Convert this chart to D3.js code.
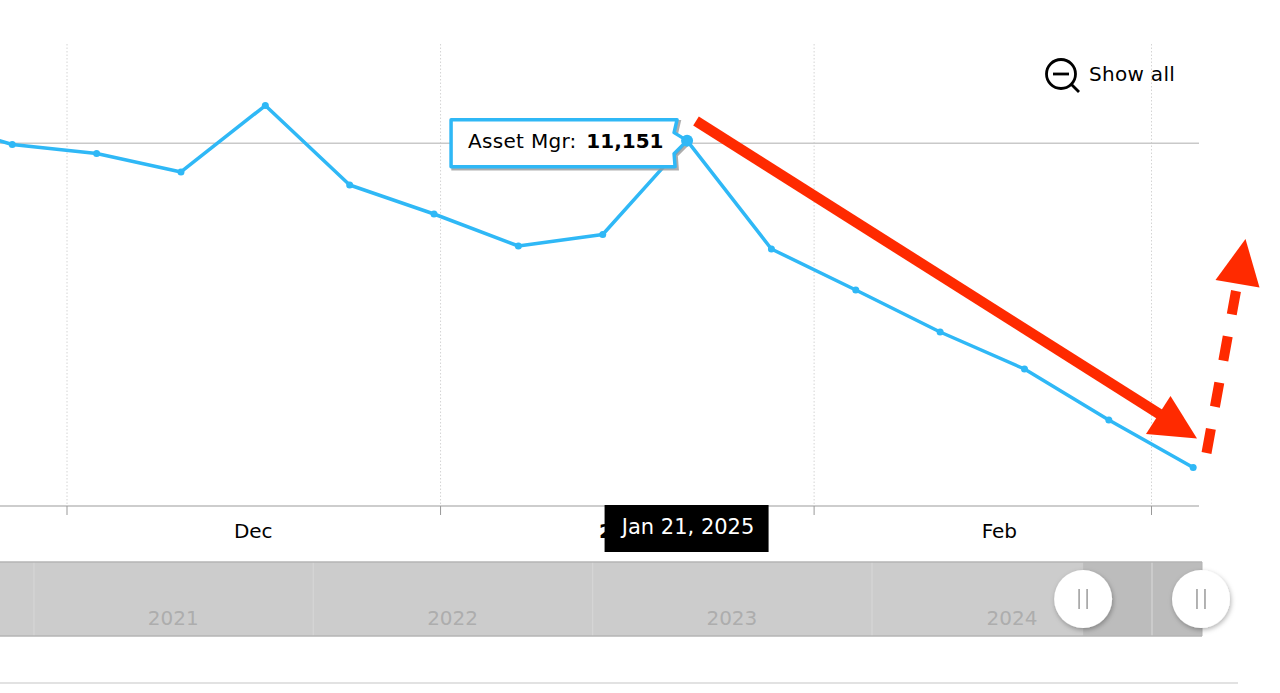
<!DOCTYPE html>
<html>
<head>
<meta charset="utf-8">
<style>
html,body{margin:0;padding:0;background:#fff;overflow:hidden}
svg{display:block}
text{font-family:"DejaVu Sans",Verdana,sans-serif}
</style>
<script src="https://cdn.jsdelivr.net/npm/d3@7/dist/d3.min.js"></script>
</head>
<body>
<svg id="c" width="1280" height="693"></svg>
<script>
const dates=["2024-11-19","2024-11-26","2024-12-03","2024-12-10","2024-12-17","2024-12-24","2024-12-31","2025-01-07","2025-01-14","2025-01-21","2025-01-28","2025-02-04","2025-02-11","2025-02-18","2025-02-25","2025-03-04"];
const assetMgr=[11781,11033,10758,10194,12223,9797,8912,7935,8286,11151,7844,6592,5310,4181,2625,1175];
const seriesName="Asset Mgr";
const hoverDate="2025-01-21";
const hoverDateLabel="Jan 21, 2025";
const monthTicks=["2024-12-01","2025-01-01","2025-02-01","2025-03-01"];
const monthLabels=["Dec","2025","Feb"];
const monthLabelDates=["2024-12-16T11:00Z","2025-01-16T11:00Z","2025-02-16T09:00Z"];
const yGrid=[11070];
const navYears=["2021","2022","2023","2024"];
const navYearLabelDates=["2021-07-02","2022-07-02","2023-07-02","2024-07-02"];
const navDividers=["2021-01-01","2022-01-01","2023-01-01","2024-01-01","2025-01-01"];
const navSelection=["2024-10-03","2025-03-06"];

const noon=s=>new Date(s+"T11:00:00Z");
const day=s=>new Date(s+"T00:00:00Z");
const parse=s=>new Date(s);

const svg=d3.select("#c");
const defs=svg.append("defs");
defs.append("clipPath").attr("id","plot").append("rect").attr("x",0).attr("y",30).attr("width",1199).attr("height",490);
const sh=defs.append("filter").attr("id","hs").attr("x","-30%").attr("y","-30%").attr("width","170%").attr("height","170%");
sh.append("feDropShadow").attr("dx",1).attr("dy",2).attr("stdDeviation",2.5).attr("flood-color","#000").attr("flood-opacity",.3);

const x=d3.scaleTime().domain([day(monthTicks[0]),day(monthTicks[3])]).range([67,1151.5]);
const y=d3.scaleLinear().domain([0,14100]).range([506,44]);
const nav=d3.scaleTime().domain([day(navDividers[0]),day(navDividers[4])]).range([34,1152]);
const BLUE="#2fb8f6", RED="#ff2a00";

// grid
svg.append("g").selectAll("line").data(monthTicks).join("line")
 .attr("x1",d=>x(day(d))).attr("x2",d=>x(day(d))).attr("y1",44).attr("y2",506)
 .attr("stroke","#d4d4d4").attr("stroke-dasharray","1.5 2");
svg.append("g").selectAll("line").data(yGrid).join("line")
 .attr("x1",0).attr("x2",1199).attr("y1",d=>y(d)).attr("y2",d=>y(d))
 .attr("stroke","#c9c9c9").attr("stroke-width",1.5);

// x axis
svg.append("line").attr("x1",0).attr("x2",1199).attr("y1",506).attr("y2",506).attr("stroke","#bdbdbd").attr("stroke-width",1.5);
svg.append("g").selectAll("line").data(monthTicks).join("line")
 .attr("x1",d=>x(day(d))).attr("x2",d=>x(day(d))).attr("y1",506).attr("y2",515)
 .attr("stroke","#999").attr("stroke-width",1);
svg.append("g").selectAll("text").data(monthLabels).join("text")
 .attr("x",(d,i)=>x(parse(monthLabelDates[i]))).attr("y",538).attr("text-anchor","middle")
 .attr("font-size",20).attr("fill","#000").attr("font-weight",d=>d==="2025"?"bold":"normal").text(d=>d);

// series
const pts=dates.map((d,i)=>({d:noon(d),v:assetMgr[i],k:d}));
const plot=svg.append("g").attr("clip-path","url(#plot)");
plot.append("path").datum(pts)
 .attr("d",d3.line().x(d=>x(d.d)).y(d=>y(d.v)))
 .attr("fill","none").attr("stroke",BLUE).attr("stroke-width",3.5).attr("stroke-linejoin","round");
plot.selectAll("circle").data(pts).join("circle")
 .attr("cx",d=>x(d.d)).attr("cy",d=>y(d.v)).attr("r",3.5).attr("fill",BLUE);

// tooltip
const hp=pts.find(p=>p.k===hoverDate);
const hx=x(hp.d), hy=y(hp.v);
const tip=[[-236,-21],[-10,-21],[-13,-8],[0,0],[-13,13],[-12,26],[-236,26]];
const tipPath=d3.line().x(d=>hx+d[0]).y(d=>hy+d[1]).curve(d3.curveLinearClosed)(tip);
svg.append("path").attr("d",tipPath).attr("transform","translate(2,2)").attr("fill","#999").attr("stroke","#999").attr("stroke-width",3.5).attr("opacity",.8);
svg.append("path").attr("d",tipPath).attr("fill","#fff").attr("stroke",BLUE).attr("stroke-width",3.5).attr("stroke-linejoin","round");
const tt=svg.append("text").attr("x",hx-219).attr("y",hy+7).attr("font-size",20).attr("fill","#000");
tt.append("tspan").attr("letter-spacing",.3).text(seriesName+": ");
tt.append("tspan").attr("dx",3).attr("font-weight","bold").text(d3.format(",")(hp.v));
svg.append("circle").attr("cx",hx).attr("cy",hy).attr("r",6).attr("fill",BLUE);

// date label
svg.append("rect").attr("x",hx-82.5).attr("y",505).attr("width",164).attr("height",47).attr("fill","#000");
svg.append("text").attr("x",hx+1).attr("y",534).attr("text-anchor","middle").attr("font-size",21).attr("fill","#fff").text(hoverDateLabel);

// navigator
const nL=0,nR=1202,nT=562,nB=636;
svg.append("rect").attr("x",nL).attr("y",nT).attr("width",nR-nL).attr("height",nB-nT).attr("fill","#cccccc");
svg.append("rect").attr("x",nav(day(navSelection[0]))).attr("y",nT).attr("width",nR-nav(day(navSelection[0]))).attr("height",nB-nT).attr("fill","#bcbcbc");
svg.append("g").selectAll("line").data(navDividers).join("line")
 .attr("x1",d=>nav(day(d))).attr("x2",d=>nav(day(d))).attr("y1",nT).attr("y2",nB)
 .attr("stroke","#d6d6d6").attr("stroke-width",1.2);
[nT,nB].forEach(v=>svg.append("line").attr("x1",nL).attr("x2",nR).attr("y1",v).attr("y2",v).attr("stroke","#b4b4b4").attr("stroke-width",1.5));
svg.append("line").attr("x1",nR).attr("x2",nR).attr("y1",nT).attr("y2",nB).attr("stroke","#b4b4b4").attr("stroke-width",1);
svg.append("g").selectAll("text").data(navYears).join("text")
 .attr("x",(d,i)=>nav(day(navYearLabelDates[i]))).attr("y",624.5).attr("text-anchor","middle")
 .attr("font-size",20).attr("fill","#adadad").text(d=>d);
const handles=svg.append("g").selectAll("g").data(navSelection).join("g")
 .attr("transform",d=>`translate(${nav(day(d))},599)`);
handles.append("circle").attr("r",29).attr("fill","#fff").attr("filter","url(#hs)");
[-4,4].forEach(o=>handles.append("line").attr("x1",o).attr("x2",o).attr("y1",-10).attr("y2",10).attr("stroke","#aaa").attr("stroke-width",1.8));

// page rule under the chart
svg.append("line").attr("x1",0).attr("x2",1238).attr("y1",683).attr("y2",683).attr("stroke","#d8d8d8").attr("stroke-width",1.5);

// Show all
const ic=svg.append("g").attr("transform","translate(1061,74)");
ic.append("circle").attr("r",14.5).attr("fill","none").attr("stroke","#000").attr("stroke-width",2.8);
ic.append("line").attr("x1",-8).attr("x2",8).attr("y1",0).attr("y2",0).attr("stroke","#000").attr("stroke-width",2.8);
ic.append("line").attr("x1",10).attr("y1",10).attr("x2",18).attr("y2",18).attr("stroke","#000").attr("stroke-width",2.8);
svg.append("text").attr("x",1089).attr("y",81).attr("font-size",20).attr("letter-spacing",.3).attr("fill","#000").text("Show all");

// hand-drawn annotation arrows
const ann=svg.append("g");
ann.append("line").attr("x1",696).attr("y1",121).attr("x2",1172).attr("y2",422).attr("stroke",RED).attr("stroke-width",10.5);
ann.append("polygon").attr("points","1170.5,396 1146,434 1197,438.5").attr("fill",RED);
ann.append("line").attr("x1",1206.5).attr("y1",453).attr("x2",1236).attr("y2",291).attr("stroke",RED).attr("stroke-width",10).attr("stroke-dasharray","24.5 22.5");
ann.append("polygon").attr("points","1245.5,239 1215.5,280 1259.5,287.5").attr("fill",RED);
</script>
</body>
</html>
